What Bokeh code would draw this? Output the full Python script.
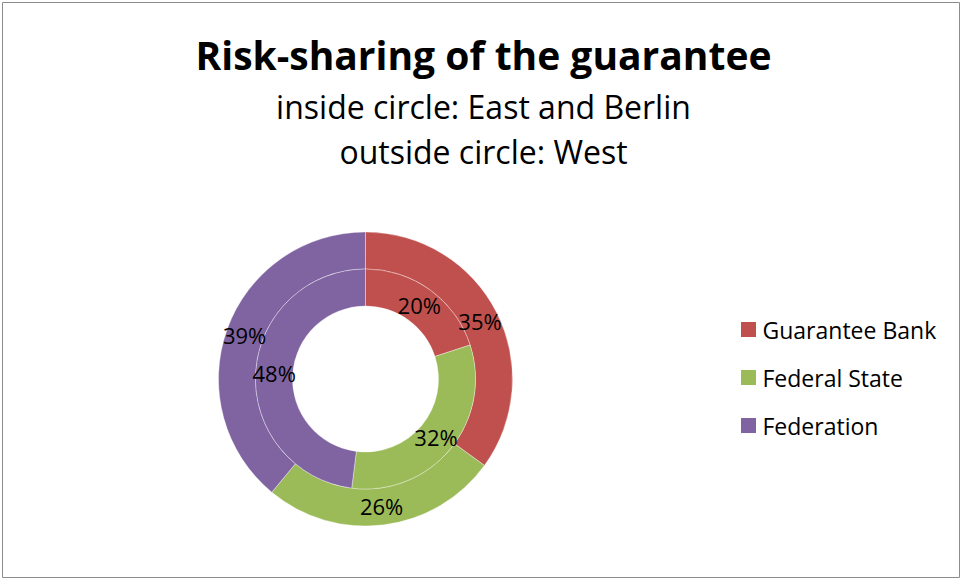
import numpy as np
from bokeh.plotting import figure
from bokeh.models import ColumnDataSource, Range1d
from bokeh.core.properties import value
from bokeh.embed import file_html
from bokeh.resources import INLINE

# ---- data ----
categories = ["Guarantee Bank", "Federal State", "Federation"]
colors = ["#C0504D", "#9BBB59", "#8064A2"]
inner_values = [20, 32, 48]   # East and Berlin
outer_values = [35, 26, 39]   # West
title = "Risk-sharing of the guarantee"
subtitle = ["inside circle: East and Berlin", "outside circle: West"]

W, H = 962, 579
FONT = "Open Sans"

def Y(y):  # screen (reference) y -> data y
    return 579 - y

p = figure(width=W, height=H, output_backend="svg", toolbar_location=None,
           x_range=Range1d(2, 959), y_range=Range1d(2, 577),
           min_border_left=2, min_border_right=3, min_border_top=2, min_border_bottom=2)
p.axis.visible = False
p.grid.visible = False
p.outline_line_color = "#8c8c8c"
p.outline_line_width = 1
p.background_fill_color = "white"
p.border_fill_color = "white"

cx, cy = 365, Y(378.5)
r_hole, r_mid, r_out = 73, 110, 147

def ring(vals, r0, r1):
    v = np.array(vals, dtype=float)
    frac = v / v.sum()
    cum = np.concatenate([[0], np.cumsum(frac)])
    start = np.pi / 2 - cum[1:] * 2 * np.pi
    end = np.pi / 2 - cum[:-1] * 2 * np.pi
    mid = (start + end) / 2
    rm = (r0 + r1) / 2
    return ColumnDataSource(dict(
        start=start, end=end, color=colors,
        lx=cx + rm * np.cos(mid), ly=cy + rm * np.sin(mid),
        label=[f"{int(x)}%" for x in vals]))

src_in = ring(inner_values, r_hole, r_mid)
src_out = ring(outer_values, r_mid, r_out)

for src, r0, r1 in [(src_out, r_mid, r_out), (src_in, r_hole, r_mid)]:
    p.annular_wedge(x=cx, y=cy, inner_radius=r0, outer_radius=r1,
                    start_angle="start", end_angle="end", direction="anticlock",
                    fill_color="color", line_color="white", line_width=0.6,
                    line_alpha=0.6, source=src)

for src in (src_in, src_out):
    p.text(x="lx", y="ly", text="label", source=src, text_font=value(FONT),
           text_font_size="22px", text_color="black", text_align="center",
           text_baseline="middle")

# title and subtitle
p.text(x=[483], y=[Y(54)], text=[title], text_font=value(FONT),
       text_font_size="39px", text_font_style="bold", text_color="black",
       text_align="center", text_baseline="alphabetic")
p.text(x=[483, 483], y=[Y(106), Y(151)], text=subtitle, text_font=value(FONT),
       text_font_size="32px", text_color="black",
       text_align="center", text_baseline="alphabetic")

# legend
ly = [Y(329 + 48 * i) for i in range(len(categories))]
leg = ColumnDataSource(dict(x=[748] * 3, tx=[762] * 3, y=ly, color=colors, label=categories))
p.rect(x="x", y="y", width=15, height=15, width_units="screen", height_units="screen",
       fill_color="color", line_color=None, source=leg)
p.text(x="tx", y="y", text="label", source=leg, text_font=value(FONT),
       text_font_size="23px", text_color="black", text_align="left",
       text_baseline="middle")

open("out.html", "w").write(file_html(p, INLINE))
